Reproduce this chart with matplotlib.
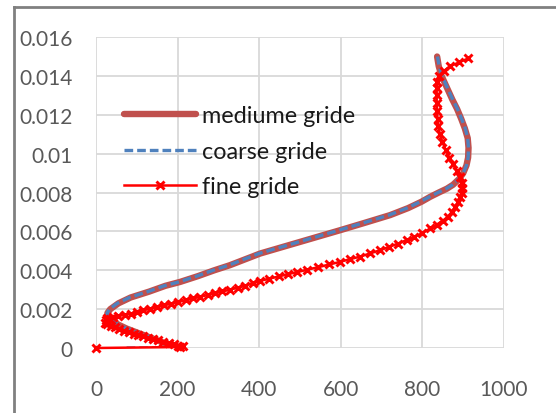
import matplotlib
matplotlib.use('Agg')
import matplotlib.pyplot as plt
from matplotlib.lines import Line2D

plt.rcParams['font.family'] = ['Lato', 'DejaVu Sans']

# mediume grid profile
med_x = [200, 175, 150, 125, 100, 75, 55, 40, 30, 28, 35, 55, 85, 130, 170, 206, 250, 290,
         328, 402, 500, 598, 660, 721, 765, 798, 819, 840, 860, 875, 890, 900, 908, 912,
         913, 911, 904, 895, 885, 873, 860, 847, 840, 836]
med_y = [0.0, 0.0002, 0.0004, 0.0006, 0.0008, 0.001, 0.0012, 0.0014, 0.0016, 0.0018, 0.002,
         0.0023, 0.0026, 0.0029, 0.0032, 0.0034, 0.0037, 0.004, 0.00426, 0.00486, 0.00546,
         0.00606, 0.00645, 0.00684, 0.0072, 0.00753, 0.00778, 0.008, 0.0082, 0.0084, 0.0087,
         0.009, 0.0094, 0.0098, 0.0103, 0.0108, 0.0113, 0.0118, 0.0123, 0.0128, 0.0134,
         0.014, 0.0145, 0.015]

# coarse grid profile
coa_x = [75, 200, 175, 150, 125, 100, 75, 55, 40, 30, 27, 33, 52, 82, 127, 167, 203, 247,
         287, 325, 399, 497, 595, 657, 718, 762, 795, 817, 838, 858, 874, 889, 900, 908,
         912, 913, 911, 905, 896, 886, 874, 861, 848, 841, 837]
coa_y = [0.0, 0.0, 0.0002, 0.0004, 0.0006, 0.0008, 0.001, 0.0012, 0.0014, 0.0016, 0.0018,
         0.002, 0.0023, 0.0026, 0.0029, 0.0032, 0.0034, 0.0037, 0.004, 0.00426, 0.00486,
         0.00546, 0.00606, 0.00645, 0.00684, 0.0072, 0.00753, 0.00778, 0.008, 0.0082,
         0.0084, 0.0087, 0.009, 0.0094, 0.0098, 0.0103, 0.0108, 0.0113, 0.0118, 0.0123,
         0.0128, 0.0134, 0.014, 0.0145, 0.015]

# fine grid profile
fin_x = [0, 205, 212, 200, 190, 178, 165, 152, 140, 128, 116, 104, 92, 80, 68, 57, 46, 36,
         28, 22, 30, 24, 34, 28, 42, 55, 70, 85, 100, 115, 132, 149, 166, 184, 202, 220,
         238, 256, 274, 292, 310, 328, 347, 365, 384, 402, 425, 448, 470, 492, 518, 545,
         572, 598, 622, 647, 672, 696, 718, 740, 761, 780, 800, 819, 835, 850, 862, 872,
         880, 887, 892, 896, 897, 896, 892, 884, 875, 866, 857, 849, 843, 839, 837, 836,
         835, 835, 835, 836, 840, 852, 868, 890, 912]
fin_y = [0.0, 0.00005, 0.0001, 0.00012, 0.0002, 0.00026, 0.00033, 0.0004, 0.00046, 0.00052,
         0.0006, 0.00067, 0.00074, 0.00082, 0.0009, 0.00098, 0.00106, 0.00114, 0.00122,
         0.0013, 0.00136, 0.00142, 0.00148, 0.00155, 0.0016, 0.00165, 0.0017, 0.00177,
         0.00185, 0.00193, 0.00202, 0.0021, 0.00219, 0.00228, 0.00237, 0.00246, 0.00255,
         0.00264, 0.00273, 0.00282, 0.00291, 0.003, 0.0031, 0.0032, 0.00334, 0.00345,
         0.00357, 0.00368, 0.0038, 0.0039, 0.00403, 0.00416, 0.0043, 0.00443, 0.00457,
         0.0047, 0.00487, 0.00503, 0.0052, 0.00537, 0.00555, 0.0057, 0.00592, 0.00615,
         0.00635, 0.00655, 0.00675, 0.007, 0.00725, 0.0075, 0.00775, 0.008, 0.00825, 0.0085,
         0.0088, 0.0091, 0.00945, 0.0098, 0.0102, 0.0106, 0.011, 0.0114, 0.0118, 0.0122,
         0.0126, 0.013, 0.0134, 0.0137, 0.014, 0.01425, 0.0145, 0.0147, 0.0149]

x_ticks = [0, 200, 400, 600, 800, 1000]
y_ticks = [0, 0.002, 0.004, 0.006, 0.008, 0.01, 0.012, 0.014, 0.016]
y_labels = ['0', '0.002', '0.004', '0.006', '0.008', '0.01', '0.012', '0.014', '0.016']

fig = plt.figure(figsize=(5.56, 4.14), dpi=100)
ax = fig.add_axes([0.1727, 0.157, 0.7338, 0.751])

ax.plot(med_x, med_y, color='#C0504D', lw=4.6, solid_capstyle='round', label='mediume gride')
ax.plot(coa_x, coa_y, color='#4F81BD', lw=2.4, dashes=(2.6, 1.2), label='coarse gride')
ax.plot(fin_x, fin_y, color='#FF0000', lw=1.8, marker='x', ms=6, mew=2.1, clip_on=False,
        label='fine gride')

ax.set_xlim(0, 1000)
ax.set_ylim(0, 0.016)
ax.set_xticks(x_ticks)
ax.set_yticks(y_ticks)
ax.set_yticklabels(y_labels)
ax.grid(True, color='#D9D9D9', lw=1.3)
ax.set_axisbelow(True)
for s in ax.spines.values():
    s.set_visible(False)
ax.tick_params(length=0, labelsize=15, labelcolor='#595959')
ax.tick_params(axis='x', pad=22)
ax.tick_params(axis='y', pad=17)

leg = ax.legend(loc='upper left', bbox_to_anchor=(0.04, 0.818), frameon=False, fontsize=16.8,
                handlelength=3.1, handletextpad=0.25, labelspacing=0.62, borderpad=0)
for t in leg.get_texts():
    t.set_color('#1A1A1A')

# outer frame, only top and left edges inside the image
fig.add_artist(Line2D([14 / 556, 14 / 556], [0, 1 - 8 / 414], color='#808080', lw=2))
fig.add_artist(Line2D([14 / 556, 1], [1 - 8 / 414, 1 - 8 / 414], color='#808080', lw=2))

fig.savefig('out.png', dpi=100)
